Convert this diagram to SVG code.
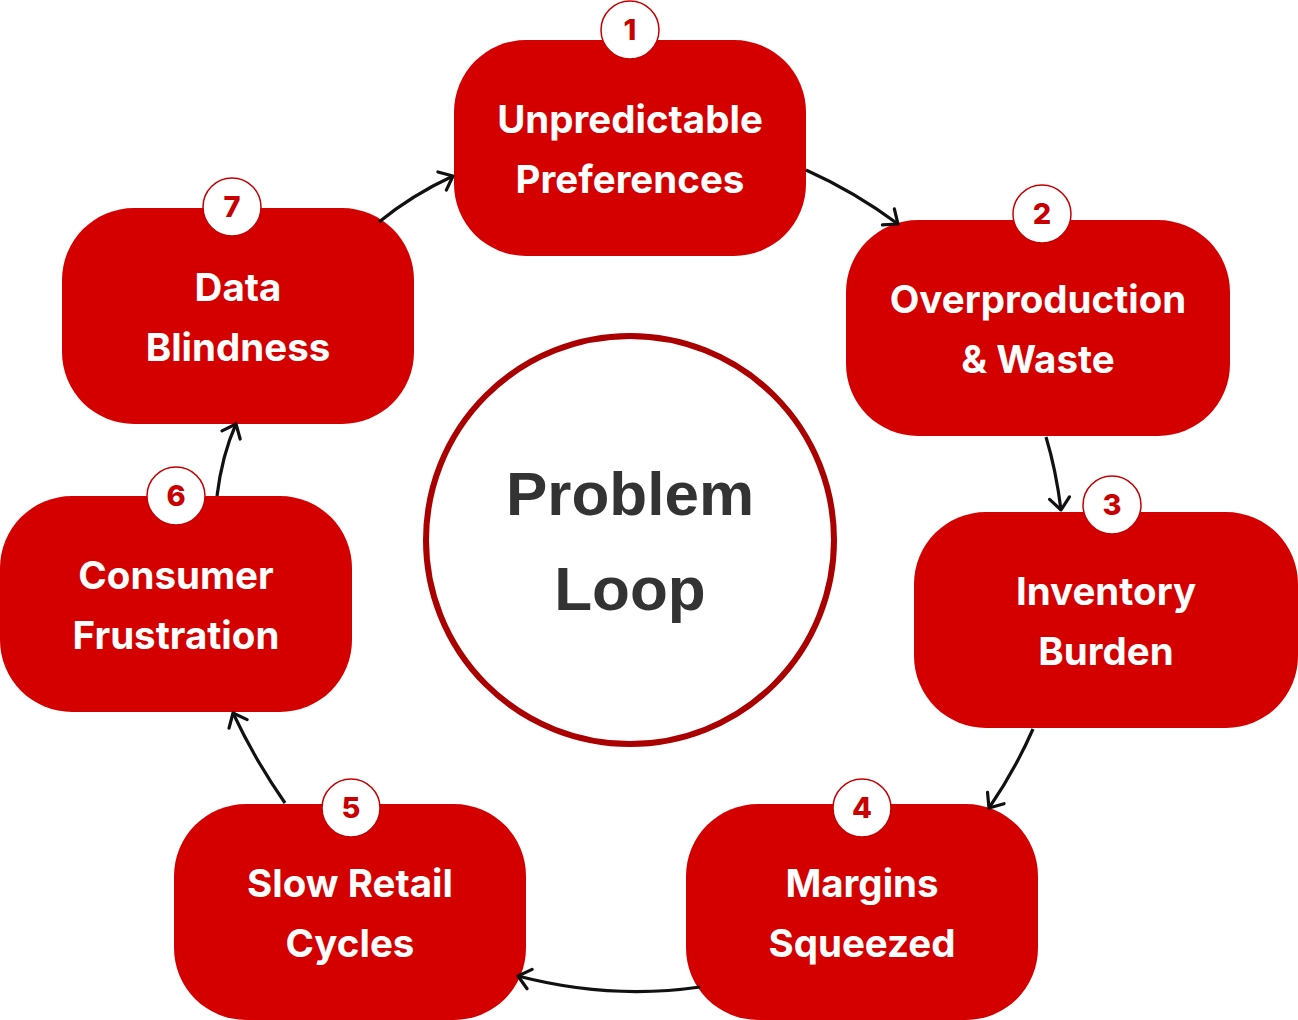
<svg xmlns="http://www.w3.org/2000/svg" width="1298" height="1020" viewBox="0 0 1298 1020">
<style>
.box{fill:#D40000}
.lbl{fill:#ffffff;font-family:Inter,"Liberation Sans",sans-serif;font-weight:700;font-size:38.5px;text-anchor:middle}
.badge{fill:#ffffff;stroke:#C40000;stroke-width:1.5}
.num{fill:#C80000;font-family:Inter,"Liberation Sans",sans-serif;font-weight:800;font-size:29px;text-anchor:middle}
.conn{fill:none;stroke:#111111;stroke-width:3.2;marker-end:url(#arr)}
.center{fill:#333333;font-family:"Liberation Sans",Arial,sans-serif;font-weight:700;font-size:62px;text-anchor:middle}
</style>
<defs>
<marker id="arr" markerUnits="userSpaceOnUse" markerWidth="30" markerHeight="30" viewBox="-15 -15 30 30" refX="0" refY="0" orient="auto">
<path d="M-12,-10 L0,0 L-12,10" fill="none" stroke="#111111" stroke-width="3.2" stroke-linecap="round" stroke-linejoin="round"/>
</marker>
</defs>
<rect width="1298" height="1020" fill="#ffffff"/>
<g id="center">
<circle cx="630" cy="540" r="204" fill="#ffffff" stroke="#AA0000" stroke-width="6"/>
<text class="center" x="630" y="515">Problem</text>
<text class="center" x="630" y="610">Loop</text>
</g>
<g id="node1">
<rect class="box" x="454" y="40" width="352" height="216" rx="72"/>
<text class="lbl" x="630" y="133">Unpredictable</text>
<text class="lbl" x="630" y="193">Preferences</text>
<circle class="badge" cx="630" cy="30" r="29"/>
<text class="num" x="630" y="40">1</text>
</g>
<g id="node2">
<rect class="box" x="846" y="220" width="384" height="216" rx="72"/>
<text class="lbl" x="1038" y="313">Overproduction</text>
<text class="lbl" x="1038" y="373">&amp; Waste</text>
<circle class="badge" cx="1042" cy="214" r="29"/>
<text class="num" x="1042" y="224">2</text>
</g>
<g id="node3">
<rect class="box" x="914" y="512" width="384" height="216" rx="72"/>
<text class="lbl" x="1106" y="605">Inventory</text>
<text class="lbl" x="1106" y="665">Burden</text>
<circle class="badge" cx="1112" cy="505" r="29"/>
<text class="num" x="1112" y="515">3</text>
</g>
<g id="node4">
<rect class="box" x="686" y="804" width="352" height="216" rx="72"/>
<text class="lbl" x="862" y="897">Margins</text>
<text class="lbl" x="862" y="957">Squeezed</text>
<circle class="badge" cx="862" cy="808" r="29"/>
<text class="num" x="862" y="818">4</text>
</g>
<g id="node5">
<rect class="box" x="174" y="804" width="352" height="216" rx="72"/>
<text class="lbl" x="350" y="897">Slow Retail</text>
<text class="lbl" x="350" y="957">Cycles</text>
<circle class="badge" cx="351" cy="808" r="29"/>
<text class="num" x="351" y="818">5</text>
</g>
<g id="node6">
<rect class="box" x="0" y="496" width="352" height="216" rx="72"/>
<text class="lbl" x="176" y="589">Consumer</text>
<text class="lbl" x="176" y="649">Frustration</text>
<circle class="badge" cx="176" cy="496" r="29"/>
<text class="num" x="176" y="506">6</text>
</g>
<g id="node7">
<rect class="box" x="62" y="208" width="352" height="216" rx="72"/>
<text class="lbl" x="238" y="301">Data</text>
<text class="lbl" x="238" y="361">Blindness</text>
<circle class="badge" cx="232" cy="207" r="29"/>
<text class="num" x="232" y="217">7</text>
</g>
<g id="connectors">
<path class="conn" d="M806,170 Q855,192 898,224"/>
<path class="conn" d="M1046,437 Q1056,470 1061,510"/>
<path class="conn" d="M1033,729 Q1015,770 989,808"/>
<path class="conn" d="M700,987 Q610,1000 518,976"/>
<path class="conn" d="M285,803 Q255,760 233,713"/>
<path class="conn" d="M217,496 Q222,455 236,424"/>
<path class="conn" d="M379,222 Q412,195 453,176"/>
</g>
</svg>
